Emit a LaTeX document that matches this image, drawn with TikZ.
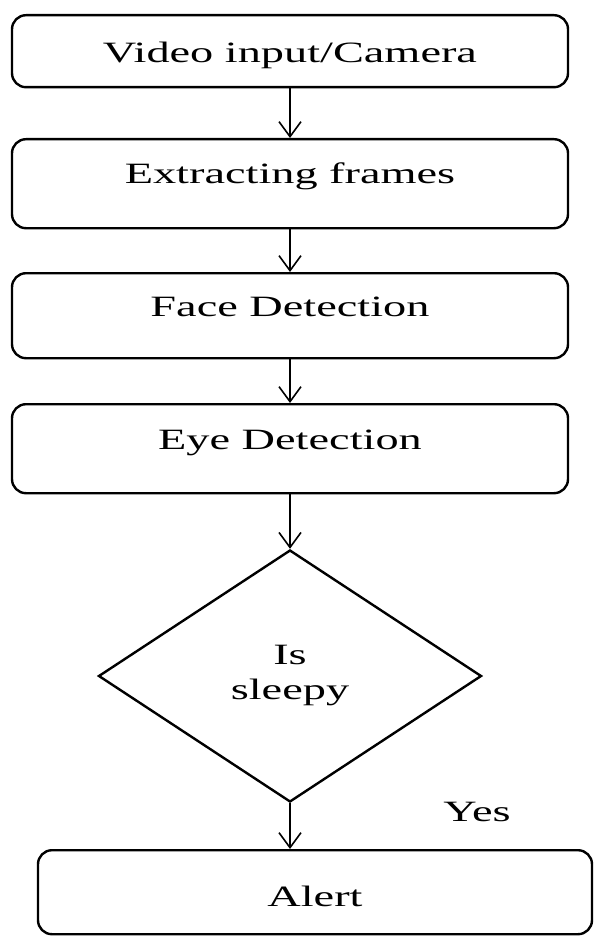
\documentclass[tikz,border=0pt]{standalone}
\usepackage{fontspec}
\setmainfont{Liberation Serif}[FakeStretch=1.57]
\usetikzlibrary{shapes.geometric,arrows.meta}

\begin{document}
\begin{tikzpicture}[x=1pt,y=-1pt,
	procbox/.style={draw,line width=2.4pt,rounded corners=14pt,minimum width=556pt,
		inner xsep=0pt,inner ysep=0pt,anchor=north,font=\fontsize{29.5}{35}\selectfont},
	decision/.style={diamond,draw,line width=2.4pt,minimum width=383pt,minimum height=252pt,
		inner sep=0pt,align=center,font=\fontsize{29.5}{35}\selectfont},
	flow/.style={-{Straight Barb[length=15pt,width=22pt]},line width=1.6pt}]
	\useasboundingbox (0,0) rectangle (595,936);

	\node[procbox,text height=47pt,text depth=25pt] (video) at (290,14) {Video input/Camera};
	\node[procbox,text height=44pt,text depth=45pt] (frames) at (290,138) {Extracting frames};
	\node[procbox,text height=43pt,text depth=42pt] (face) at (290,272) {Face Detection};
	\node[procbox,text height=45pt,text depth=44pt] (eye) at (290,403) {Eye Detection};
	\node[decision] (sleepy) at (290,676) {Is\\sleepy};
	\node[procbox,minimum width=554pt,text height=56pt,text depth=28pt] (alert) at (315,849) {Alert};
	\node[font=\fontsize{29.5}{35}\selectfont] (yes) at (477,812) {Yes};

	\draw[flow] (video.south) -- (frames.north);
	\draw[flow] (frames.south) -- (face.north);
	\draw[flow] (face.south) -- (eye.north);
	\draw[flow] (eye.south) -- (sleepy.north);
	\draw[flow] (sleepy.south) -- (sleepy.south |- alert.north);
\end{tikzpicture}
\end{document}
